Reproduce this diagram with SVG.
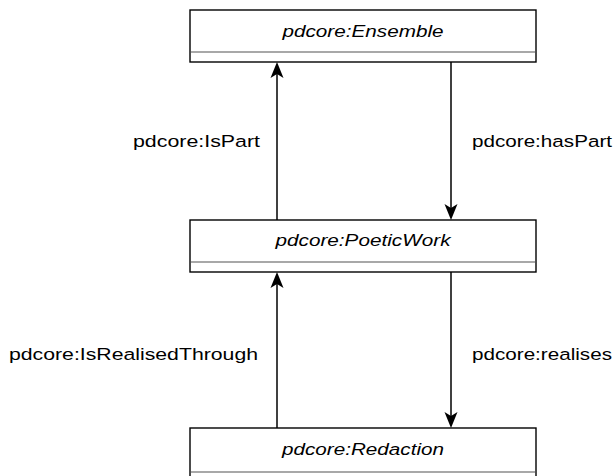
<svg xmlns="http://www.w3.org/2000/svg" width="616" height="476" viewBox="0 0 616 476">
  <style>
    .box { fill: #ffffff; stroke: #000000; stroke-width: 1.4; }
    .sep { stroke: #a8a8a8; stroke-width: 2; }
    .title { font-family: "Liberation Sans", Arial, sans-serif; font-size: 16.3px; font-style: italic; fill: #000000; }
    .label { font-family: "Liberation Sans", Arial, sans-serif; font-size: 16.3px; fill: #000000; }
    .edge { stroke: #000000; stroke-width: 1.5; fill: none; }
    .head { fill: #000000; stroke: none; }
  </style>

  <!-- class nodes -->
  <g id="ensemble">
    <rect class="box" x="190" y="10" width="346" height="52"/>
    <line class="sep" x1="191" y1="52" x2="535" y2="52"/>
    <text class="title" x="363" y="37" text-anchor="middle" textLength="161" lengthAdjust="spacingAndGlyphs">pdcore:Ensemble</text>
  </g>

  <g id="poeticwork">
    <rect class="box" x="190" y="220" width="346" height="52"/>
    <line class="sep" x1="191" y1="262" x2="535" y2="262"/>
    <text class="title" x="363" y="246" text-anchor="middle" textLength="175" lengthAdjust="spacingAndGlyphs">pdcore:PoeticWork</text>
  </g>

  <g id="redaction">
    <rect class="box" x="190" y="428" width="346" height="60"/>
    <line class="sep" x1="191" y1="472" x2="535" y2="472"/>
    <text class="title" x="363" y="455" text-anchor="middle" textLength="162" lengthAdjust="spacingAndGlyphs">pdcore:Redaction</text>
  </g>

  <!-- connectors -->
  <g id="connectors">
    <!-- PoeticWork -> Ensemble (IsPart) -->
    <line class="edge" x1="277" y1="220" x2="277" y2="70"/>
    <path class="head" d="M277,62 L283.5,78 L277,74 L270.5,78 Z"/>
    <text class="label" x="260" y="147" text-anchor="end" textLength="127" lengthAdjust="spacingAndGlyphs">pdcore:IsPart</text>

    <!-- Ensemble -> PoeticWork (hasPart) -->
    <line class="edge" x1="451" y1="62" x2="451" y2="212"/>
    <path class="head" d="M451,220 L444.5,204 L451,208 L457.5,204 Z"/>
    <text class="label" x="472" y="147" textLength="140" lengthAdjust="spacingAndGlyphs">pdcore:hasPart</text>

    <!-- Redaction -> PoeticWork (IsRealisedThrough) -->
    <line class="edge" x1="277" y1="428" x2="277" y2="280"/>
    <path class="head" d="M277,272 L283.5,288 L277,284 L270.5,288 Z"/>
    <text class="label" x="258" y="360" text-anchor="end" textLength="249" lengthAdjust="spacingAndGlyphs">pdcore:IsRealisedThrough</text>

    <!-- PoeticWork -> Redaction (realises) -->
    <line class="edge" x1="451" y1="272" x2="451" y2="420"/>
    <path class="head" d="M451,428 L444.5,412 L451,416 L457.5,412 Z"/>
    <text class="label" x="472" y="360" textLength="140" lengthAdjust="spacingAndGlyphs">pdcore:realises</text>
  </g>
</svg>
